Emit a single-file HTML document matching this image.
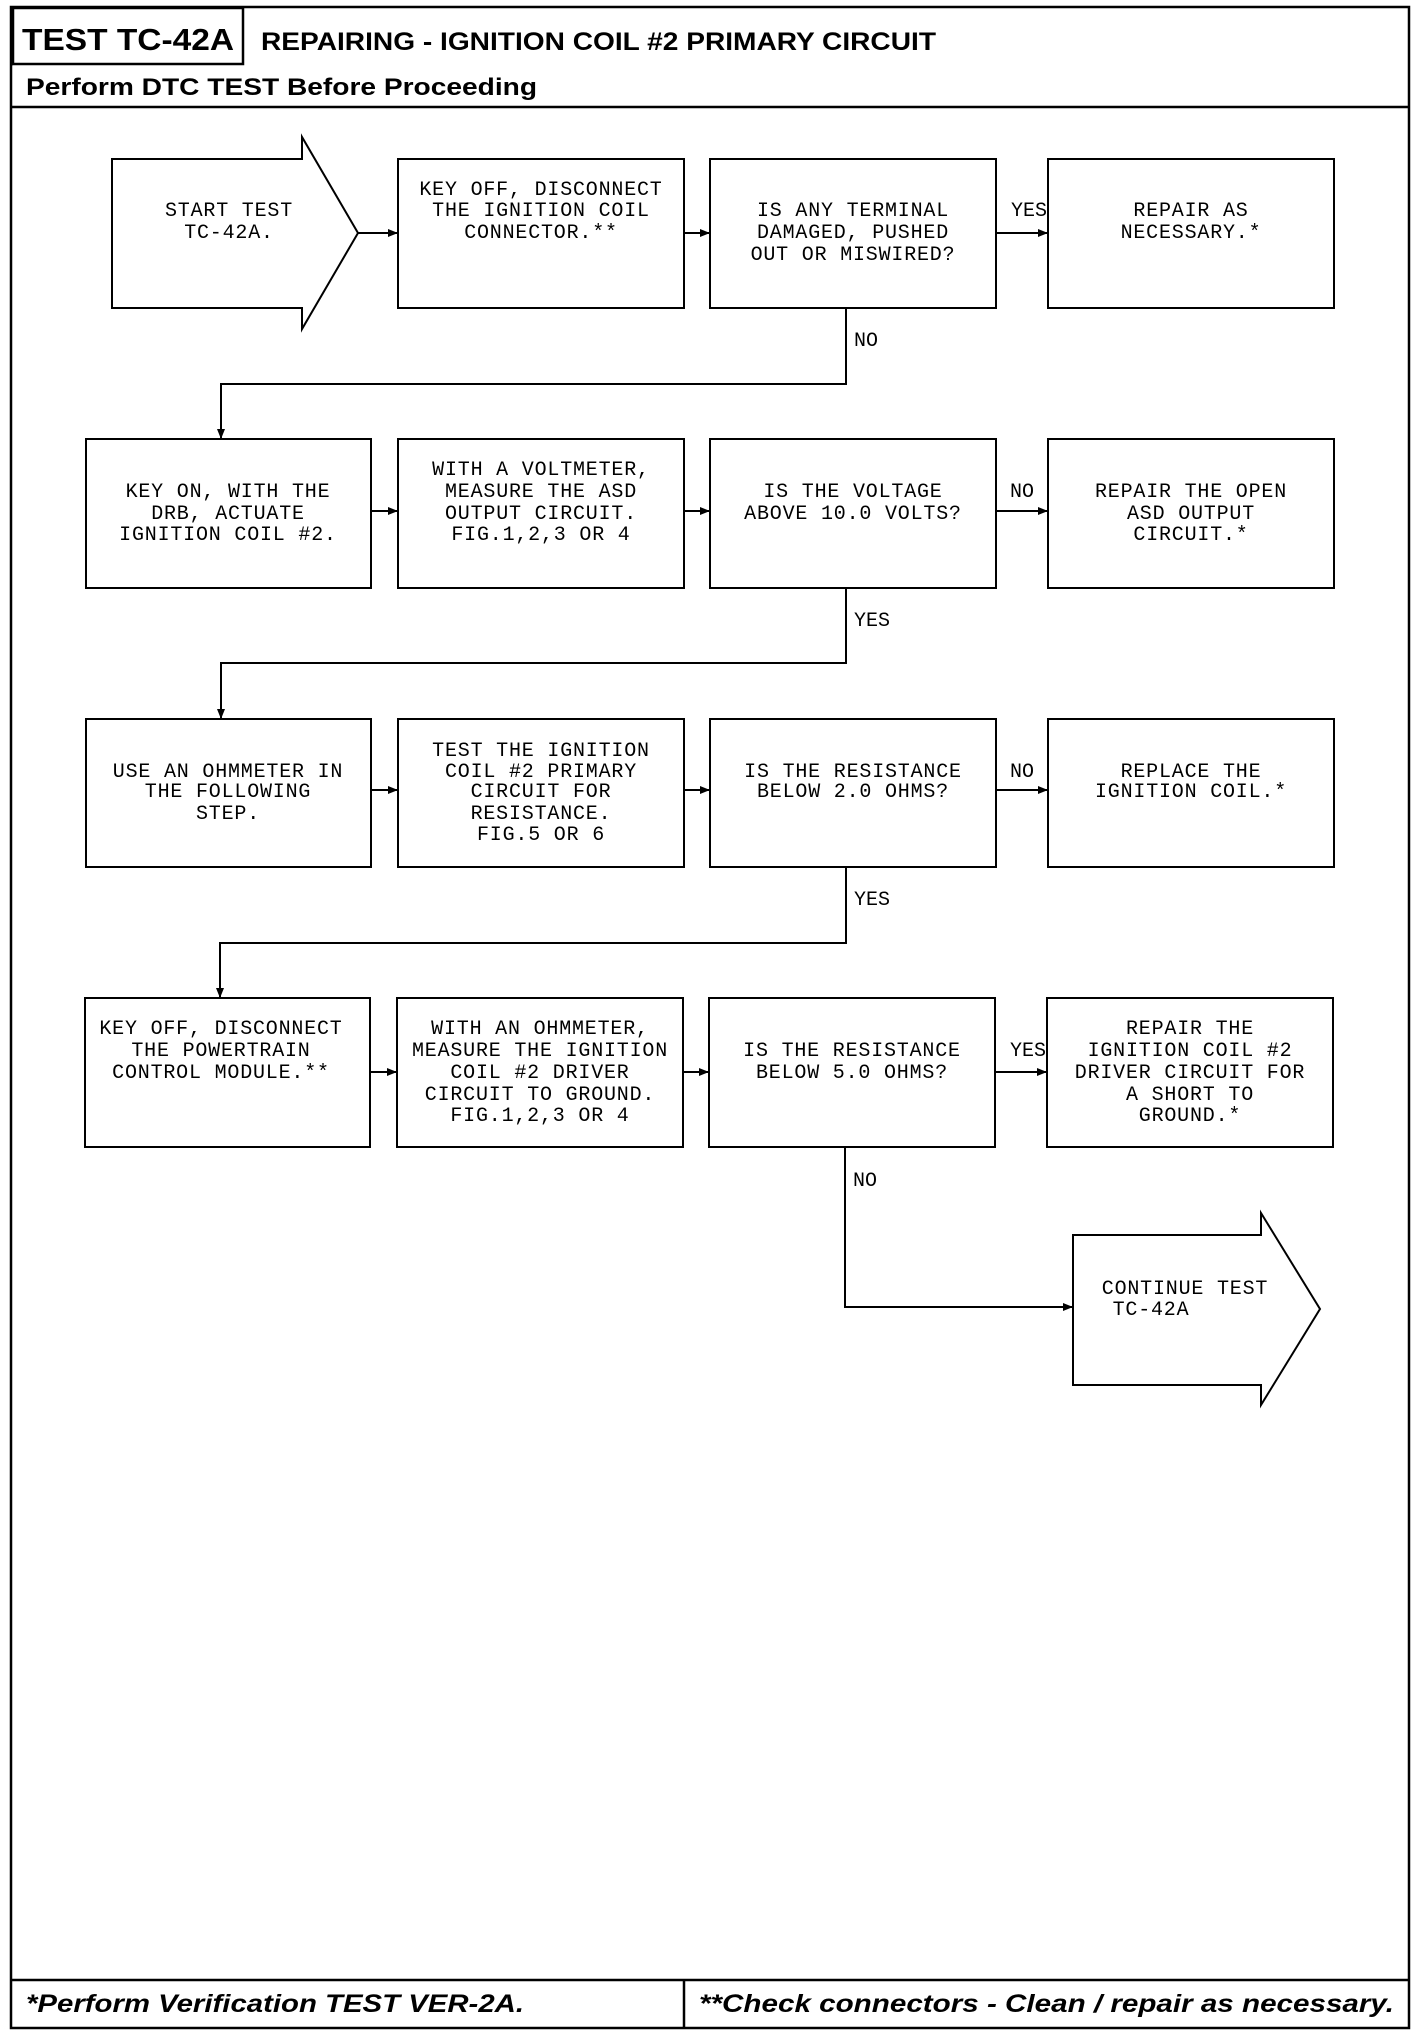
<!DOCTYPE html>
<html><head><meta charset="utf-8"><style>html,body{margin:0;padding:0;background:#fff}svg{display:block}</style></head>
<body>
<svg width="1424" height="2032" viewBox="0 0 1424 2032" xmlns="http://www.w3.org/2000/svg">
<defs><marker id="a" markerWidth="10" markerHeight="8" refX="9" refY="4" orient="auto" markerUnits="userSpaceOnUse"><path d="M0,0 L10,4 L0,8 z" fill="#000"/></marker></defs>
<g fill="none" stroke="#000" stroke-width="2.5">
<rect x="11" y="7" width="1398" height="2021"/>
<rect x="13" y="8" width="230" height="56"/>
<line x1="11" y1="64" x2="13" y2="64"/>
<line x1="11" y1="107" x2="1409" y2="107"/>
<line x1="11" y1="1980" x2="1409" y2="1980"/>
<line x1="684" y1="1980" x2="684" y2="2028"/>
</g>
<g fill="none" stroke="#000" stroke-width="2">
<path d="M112,159 H302 V137 L358,233 L302,329 V308 H112 Z"/>
<rect x="398" y="159" width="286" height="149"/>
<rect x="710" y="159" width="286" height="149"/>
<rect x="1048" y="159" width="286" height="149"/>
<rect x="86" y="439" width="285" height="149"/>
<rect x="398" y="439" width="286" height="149"/>
<rect x="710" y="439" width="286" height="149"/>
<rect x="1048" y="439" width="286" height="149"/>
<rect x="86" y="719" width="285" height="148"/>
<rect x="398" y="719" width="286" height="148"/>
<rect x="710" y="719" width="286" height="148"/>
<rect x="1048" y="719" width="286" height="148"/>
<rect x="85" y="998" width="285" height="149"/>
<rect x="397" y="998" width="286" height="149"/>
<rect x="709" y="998" width="286" height="149"/>
<rect x="1047" y="998" width="286" height="149"/>
<path d="M1073,1235 H1261 V1213 L1320,1309 L1261,1405 V1385 H1073 Z"/>
</g>
<g fill="none" stroke="#000" stroke-width="2" marker-end="url(#a)">
<line x1="358" y1="233" x2="397" y2="233"/>
<line x1="684" y1="233" x2="709" y2="233"/>
<line x1="996" y1="233" x2="1047" y2="233"/>
<line x1="371" y1="511" x2="397" y2="511"/>
<line x1="684" y1="511" x2="709" y2="511"/>
<line x1="996" y1="511" x2="1047" y2="511"/>
<line x1="371" y1="790" x2="397" y2="790"/>
<line x1="684" y1="790" x2="709" y2="790"/>
<line x1="996" y1="790" x2="1047" y2="790"/>
<line x1="370" y1="1072" x2="396" y2="1072"/>
<line x1="683" y1="1072" x2="708" y2="1072"/>
<line x1="995" y1="1072" x2="1046" y2="1072"/>
<polyline points="846,308 846,384 221,384 221,438"/>
<polyline points="846,588 846,663 221,663 221,718"/>
<polyline points="846,867 846,943 220,943 220,997"/>
<polyline points="845,1147 845,1307 1072,1307"/>
</g>
<g font-family="Liberation Sans, sans-serif" font-weight="bold" fill="#000">
<text x="22" y="50" font-size="31" textLength="212" lengthAdjust="spacingAndGlyphs">TEST TC-42A</text>
<text x="261" y="50" font-size="25" textLength="675" lengthAdjust="spacingAndGlyphs">REPAIRING - IGNITION COIL #2 PRIMARY CIRCUIT</text>
<text x="26" y="95" font-size="24" textLength="511" lengthAdjust="spacingAndGlyphs">Perform DTC TEST Before Proceeding</text>
<text x="26" y="2012" font-size="25" font-style="italic" textLength="498" lengthAdjust="spacingAndGlyphs">*Perform Verification TEST VER-2A.</text>
<text x="699" y="2012" font-size="25" font-style="italic" textLength="695" lengthAdjust="spacingAndGlyphs">**Check connectors - Clean / repair as necessary.</text>
</g>
<g font-family="Liberation Mono, monospace" font-size="20" fill="#000" text-anchor="middle" letter-spacing="0.8">
<text x="229" y="216">START TEST</text><text x="229" y="238">TC-42A.</text>
<text x="541" y="195">KEY OFF, DISCONNECT</text><text x="541" y="216">THE IGNITION COIL</text><text x="541" y="238">CONNECTOR.**</text>
<text x="853" y="216">IS ANY TERMINAL</text><text x="853" y="238">DAMAGED, PUSHED</text><text x="853" y="260">OUT OR MISWIRED?</text>
<text x="1191" y="216">REPAIR AS</text><text x="1191" y="238">NECESSARY.*</text>
<text x="228" y="497">KEY ON, WITH THE</text><text x="228" y="519">DRB, ACTUATE</text><text x="228" y="540">IGNITION COIL #2.</text>
<text x="541" y="475">WITH A VOLTMETER,</text><text x="541" y="497">MEASURE THE ASD</text><text x="541" y="519">OUTPUT CIRCUIT.</text><text x="541" y="540">FIG.1,2,3 OR 4</text>
<text x="853" y="497">IS THE VOLTAGE</text><text x="853" y="519">ABOVE 10.0 VOLTS?</text>
<text x="1191" y="497">REPAIR THE OPEN</text><text x="1191" y="519">ASD OUTPUT</text><text x="1191" y="540">CIRCUIT.*</text>
<text x="228" y="777">USE AN OHMMETER IN</text><text x="228" y="797">THE FOLLOWING</text><text x="228" y="819">STEP.</text>
<text x="541" y="756">TEST THE IGNITION</text><text x="541" y="777">COIL #2 PRIMARY</text><text x="541" y="797">CIRCUIT FOR</text><text x="541" y="819">RESISTANCE.</text><text x="541" y="840">FIG.5 OR 6</text>
<text x="853" y="777">IS THE RESISTANCE</text><text x="853" y="797">BELOW 2.0 OHMS?</text>
<text x="1191" y="777">REPLACE THE</text><text x="1191" y="797">IGNITION COIL.*</text>
<text x="221" y="1034">KEY OFF, DISCONNECT</text><text x="221" y="1056">THE POWERTRAIN</text><text x="221" y="1078">CONTROL MODULE.**</text>
<text x="540" y="1034">WITH AN OHMMETER,</text><text x="540" y="1056">MEASURE THE IGNITION</text><text x="540" y="1078">COIL #2 DRIVER</text><text x="540" y="1100">CIRCUIT TO GROUND.</text><text x="540" y="1121">FIG.1,2,3 OR 4</text>
<text x="852" y="1056">IS THE RESISTANCE</text><text x="852" y="1078">BELOW 5.0 OHMS?</text>
<text x="1190" y="1034">REPAIR THE</text><text x="1190" y="1056">IGNITION COIL #2</text><text x="1190" y="1078">DRIVER CIRCUIT FOR</text><text x="1190" y="1100">A SHORT TO</text><text x="1190" y="1121">GROUND.*</text>
<text x="1185" y="1294">CONTINUE TEST</text><text x="1151" y="1315">TC-42A</text>
</g>
<g font-family="Liberation Mono, monospace" font-size="20" fill="#000">
<text x="854" y="346">NO</text>
<text x="854" y="626">YES</text>
<text x="854" y="905">YES</text>
<text x="853" y="1186">NO</text>
<text x="1011" y="216">YES</text>
<text x="1010" y="497">NO</text>
<text x="1010" y="777">NO</text>
<text x="1010" y="1056">YES</text>
</g>
</svg>
</body></html>
